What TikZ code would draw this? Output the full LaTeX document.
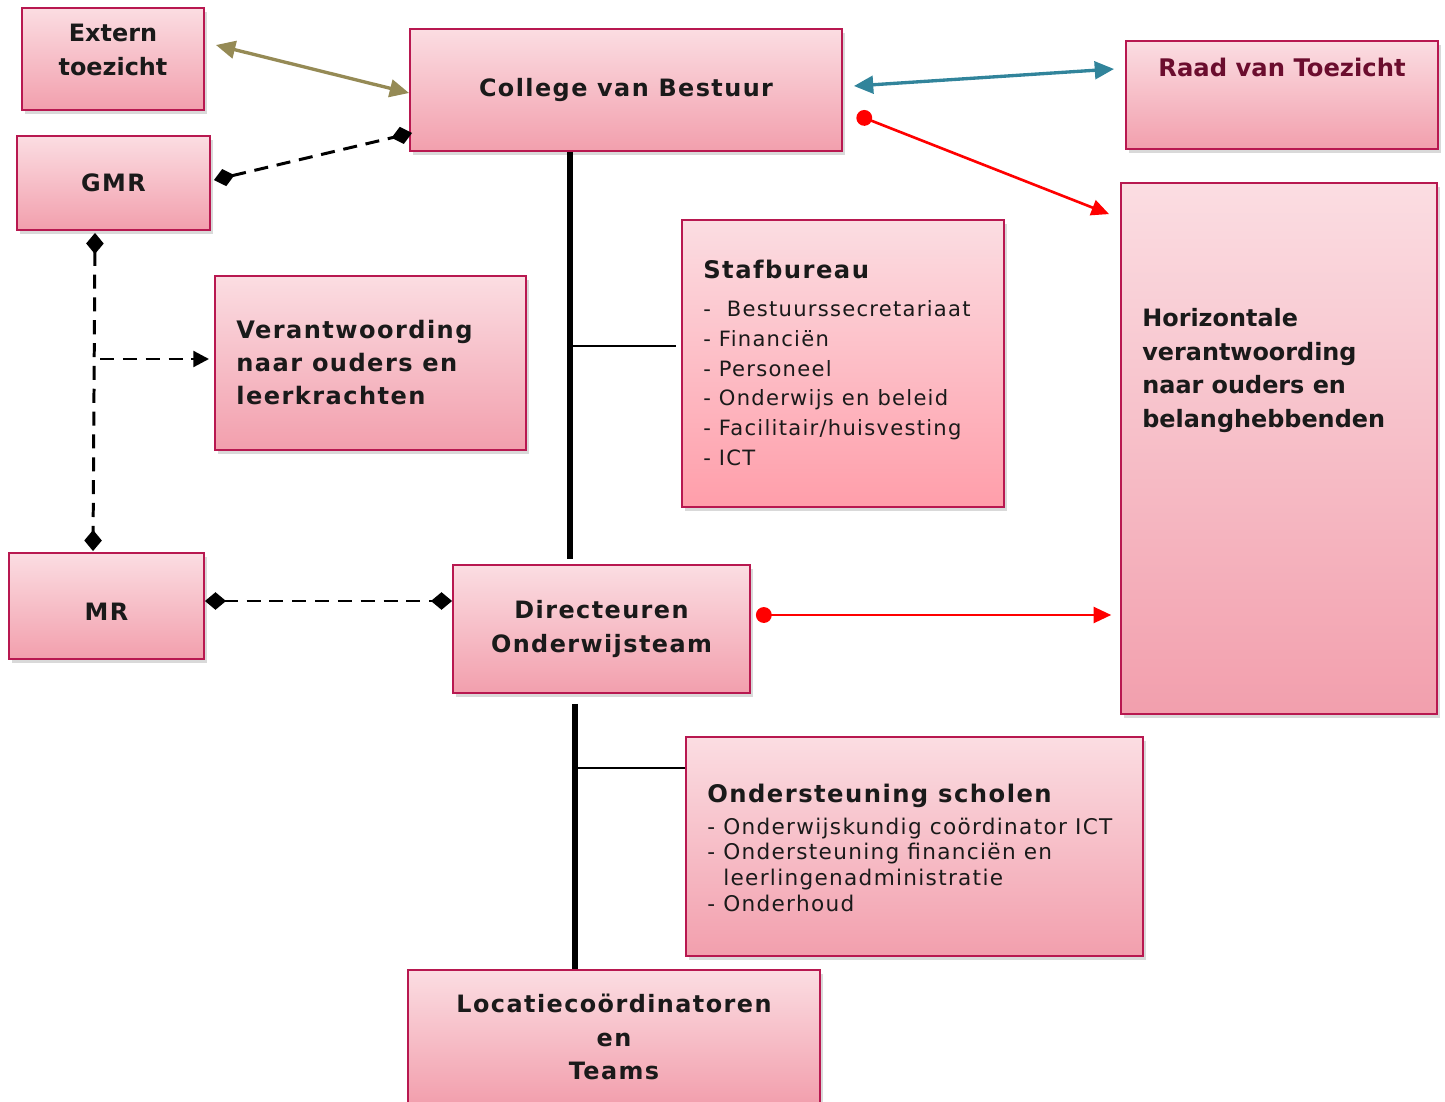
\documentclass[tikz,border=0pt]{standalone}
\usepackage{fontspec}
\setmainfont{DejaVu Sans}
\newfontfamily\ruim[LetterSpace=6]{DejaVu Sans}
\usetikzlibrary{arrows.meta}
\usetikzlibrary{shadows}
\definecolor{rand}{HTML}{B81850}
\definecolor{rozeboven}{HTML}{FBDDE2}
\definecolor{rozeonder}{HTML}{F29FAD}
\definecolor{zalm}{HTML}{FF9EAA}
\definecolor{inkt}{HTML}{1A1A1A}
\definecolor{bordeaux}{HTML}{6B0D2E}
\definecolor{olijf}{HTML}{958A55}
\definecolor{petrol}{HTML}{31849B}
\tikzset{blok/.style={ % every box of the chart
           rectangle, inner sep=0pt,
           draw=rand, line width=1.1pt,
           top color=rozeboven, bottom color=rozeonder,
           drop shadow={shadow xshift=1.5pt, shadow yshift=-2.5pt, opacity=.3}},
         tekst/.style={inner sep=0pt, text=inkt, align=left},
         kop/.style={tekst, align=center, font=\ruim\bfseries\fontsize{13.6}{19}\selectfont},
         stam/.style={draw=black, line width=3.4pt},
         tak/.style={draw=black, line width=1.5pt},
         stippel/.style={draw=black, line width=1.7pt, dash pattern=on 8pt off 5pt},
         ruit/.style={stippel, {Diamond[length=12pt,width=10pt]}-{Diamond[length=12pt,width=10pt]}},
         dubbel/.style={line width=1.9pt, {Triangle[length=11pt,width=10pt]}-{Triangle[length=11pt,width=10pt]}},
         rood/.style={draw=red, line width=1.5pt, {Circle[length=9pt]}-{Triangle[length=10pt,width=9pt]}}}

\begin{document}
\begin{tikzpicture}[x=0.02cm, y=-0.02cm]
\useasboundingbox (0,0) rectangle (1445,1102);

% boxes
\node[blok, minimum width=3.64cm, minimum height=2.04cm] (extern) at (113,59) {};
\node[blok, minimum width=8.64cm, minimum height=2.44cm, kop] (cvb) at (626,90) {College van Bestuur};
\node[blok, minimum width=6.24cm, minimum height=2.16cm] (rvt) at (1282,95) {};
\node[blok, minimum width=3.86cm, minimum height=1.88cm, kop] (gmr) at (113.5,183) {GMR};
\node[blok, minimum width=6.22cm, minimum height=3.48cm] (verantw) at (370.5,363) {};
\node[blok, minimum width=6.44cm, minimum height=5.74cm, bottom color=zalm] (staf) at (843,363.5) {};
\node[blok, minimum width=6.32cm, minimum height=10.62cm] (horiz) at (1279,448.5) {};
\node[blok, minimum width=3.90cm, minimum height=2.12cm, kop] (mr) at (106.5,606) {\raisebox{-3.4pt}[0.7em][0pt]{MR}};
\node[blok, minimum width=5.94cm, minimum height=2.56cm, kop] (dir) at (601.5,629) {Directeuren\\Onderwijsteam};
\node[blok, minimum width=9.14cm, minimum height=4.38cm] (onder) at (914.5,846.5) {};
\node[blok, minimum width=8.24cm, minimum height=2.68cm, kop] (loc) at (614,1037) {Locatiecoördinatoren\\en\\Teams};

% texts
\node[tekst, align=center, font=\bfseries\fontsize{13.6}{19}\selectfont] (externtekst) at (113,50) {Extern\\toezicht};
\node[tekst, text=bordeaux, font=\bfseries\fontsize{13.8}{19}\selectfont] (rvttekst) at (1282,67) {Raad van Toezicht};
\node[tekst, anchor=west, font=\ruim\bfseries\fontsize{13.7}{19}\selectfont] (verantwtekst) at (236,362.5)
  {Verantwoording\\naar ouders en\\leerkrachten};
\node[tekst, anchor=west, font=\ruim\fontsize{12}{17}\selectfont] (staftekst) at (703,363)
  {{\bfseries\fontsize{13.8}{17}\selectfont Stafbureau}\\[4.5pt]
   -\ \ Bestuurssecretariaat\\
   - Financiën\\
   - Personeel\\
   - Onderwijs en beleid\\
   - Facilitair/huisvesting\\
   - ICT};
\node[tekst, anchor=west, font=\bfseries\fontsize{13.6}{19}\selectfont] (horiztekst) at (1142,370.5)
  {Horizontale\\verantwoording\\naar ouders en\\belanghebbenden};
\node[tekst, anchor=west, font=\ruim\fontsize{12.3}{14.7}\selectfont] (ondertekst) at (707,848)
  {{\bfseries\fontsize{13.8}{14.7}\selectfont Ondersteuning scholen}\\[3.3pt]
   - Onderwijskundig coördinator ICT\\
   - Ondersteuning financiën en\\
   \phantom{- }leerlingenadministratie\\
   - Onderhoud};

% tree lines
\coordinate (knik1) at (570,346);
\coordinate (knik2) at (575,768);
\draw[stam] (cvb.south -| knik1) -- ([yshift=2.8pt]dir.north -| knik1);
\draw[tak] (knik1) -- ([xshift=-2.8pt]staf.west |- knik1);
\draw[stam] ([yshift=-5.7pt]dir.south -| knik2) -- (loc.north -| knik2);
\draw[tak] (knik2) -- (onder.west |- knik2);

% coloured arrows
\draw[dubbel, olijf] ([shift={(11,-14)}]extern.east) -- ([shift={(0,3)}]cvb.west);
\draw[dubbel, petrol] ([shift={(11,-4)}]cvb.east) -- ([shift={(-11,-26)}]rvt.west);
\draw[rood] ([shift={(14,25)}]cvb.east) -- ([shift={(-11,32)}]horiz.north west);
\coordinate (r2) at ([shift={(5,-14)}]dir.east);
\draw[rood] (r2) -- ([xshift=-5pt]r2 -| horiz.west);

% dashed links
\draw[ruit] ([shift={(3,-3)}]gmr.east) -- ([shift={(3,-19)}]cvb.south west);
\draw[ruit] ([shift={(-18.5,2)}]gmr.south) -- ([shift={(-13.5,-1)}]mr.north);
\coordinate (splits) at (100,359);
\draw[stippel, -{Triangle[length=9pt,width=9pt]}] (splits) -- ([shift={(-5,-4)}]verantw.west);
\draw[ruit] ([shift={(0,-5)}]mr.east) -- ([shift={(0,-28)}]dir.west);
\end{tikzpicture}
\end{document}
